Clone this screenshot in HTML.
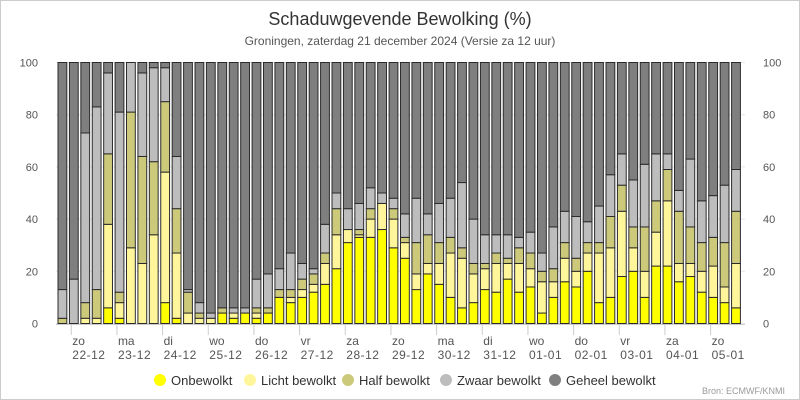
<!DOCTYPE html>
<html><head><meta charset="utf-8"><style>
body{margin:0;background:#fff;font-family:"Liberation Sans",sans-serif}
svg{display:block}
</style></head><body>
<svg id="chart" width="800" height="400" xmlns="http://www.w3.org/2000/svg">
<rect x="0.5" y="0.5" width="799" height="399" fill="#fff" stroke="#ccc"/>
<text x="400" y="25" text-anchor="middle" font-size="18" fill="#333">Schaduwgevende Bewolking (%)</text>
<text x="400" y="45" text-anchor="middle" font-size="12" fill="#555">Groningen, zaterdag 21 december 2024 (Versie za 12 uur)</text>
<g id="grid"></g><g id="bars"></g><g id="axes"></g><g id="legend"></g>
<text x="785" y="394" text-anchor="end" font-size="9" fill="#999">Bron: ECMWF/KNMI</text>
</svg>
<script>
// cumulative tops: onbewolkt, licht, half, zwaar (geheel fills to 100)
const onbewolkt=[0,0,0,0,6,2,0,0,0,8,2,0,0,0,4,2,4,2,4,10,8,10,12,15,21,31,33,33,36,29,25,13,19,15,10,6,8,13,12,17,12,14,4,10,16,14,20,8,10,18,20,10,22,22,16,18,12,10,8,6];
const licht=[0,0,2,2,38,8,29,23,34,58,27,4,2,2,4,4,4,4,4,10,10,13,15,23,34,36,34,40,46,40,31,19,23,23,27,25,19,21,23,23,23,21,16,16,25,20,27,27,29,43,29,20,35,47,23,23,20,22,14,23];
const half=[2,0,8,13,65,12,81,64,62,85,44,12,4,2,6,4,4,6,6,13,13,17,19,27,44,36,36,44,46,44,33,31,34,31,33,29,23,23,27,25,29,27,20,21,31,25,31,31,41,53,37,37,47,59,43,37,31,33,31,43];
const zwaar=[13,17,73,83,96,81,100,96,98,98,64,13,8,4,6,6,6,17,19,21,27,23,21,38,50,44,46,52,50,48,42,48,42,46,48,54,40,34,34,34,33,35,27,37,43,41,39,45,57,65,55,61,65,65,51,63,47,49,53,59];
const dayNames=["zo","ma","di","wo","do","vr","za","zo","ma","di","wo","do","vr","za","zo"];
const dayDates=["22-12","23-12","24-12","25-12","26-12","27-12","28-12","29-12","30-12","31-12","01-01","02-01","03-01","04-01","05-01"];
const yTicks=[0,20,40,60,80,100];
const NS="http://www.w3.org/2000/svg";
const X0=57,X1=742,Y0=323.5,Y100=62.5;
const n=onbewolkt.length, pitch=(X1-X0)/n;
const y=v=>Y0-(v/100)*(Y0-Y100);
const xb=i=>X0+i*pitch;
function mk(tag,attrs,parent){const e=document.createElementNS(NS,tag);for(const k in attrs)e.setAttribute(k,attrs[k]);parent.appendChild(e);return e;}
const grid=document.getElementById('grid'),bars=document.getElementById('bars'),axes=document.getElementById('axes'),legend=document.getElementById('legend');
yTicks.forEach(t=>{
  const l=mk('line',{x1:56,x2:745,y1:y(t),y2:y(t),stroke:'#e6e6e6','stroke-width':1},grid);
  
  
  const a=mk('text',{x:38,y:y(t)+4,'text-anchor':'end','font-size':11,fill:'#555'},axes);a.textContent=t;
  
  
  const b=mk('text',{x:763,y:y(t)+4,'text-anchor':'start','font-size':11,fill:'#555'},axes);b.textContent=t;
  
  
});
const cols=['#ffff00','#fff59a','#cdc97a','#bdbdbd','#7f7f7f'];
const series=[onbewolkt,licht,half,zwaar];
for(let i=0;i<n;i++){
  const bx=xb(i)+1, bw=pitch-2.6;
  let prev=0;
  const tops=[onbewolkt[i],licht[i],half[i],zwaar[i],100];
  tops.forEach((t,s)=>{
    if(t>prev){
      const r=mk('rect',{x:bx,y:y(t),width:bw,height:y(prev)-y(t),fill:cols[s],stroke:'#2b2b2b','stroke-width':1},bars);
      
      
    }
    prev=Math.max(prev,t);
  });
}
const ax=mk('line',{x1:56,x2:745,y1:324.5,y2:324.5,stroke:'#ccc','stroke-width':1},axes);


dayNames.forEach((d,k)=>{
  const tx=X0+pitch*(1.25+4*k);
  const tk=mk('line',{x1:tx,x2:tx,y1:325,y2:335,stroke:'#ccc'},axes);
  
  
  const t1=mk('text',{x:tx+1,y:345,'font-size':12,fill:'#555'},axes);t1.textContent=d;
  
  
  const t2=mk('text',{x:tx+1,y:359,'font-size':12,fill:'#555','letter-spacing':'0.5'},axes);t2.textContent=dayDates[k];
  
  
});
const legNames=['Onbewolkt','Licht bewolkt','Half bewolkt','Zwaar bewolkt','Geheel bewolkt'];
const legX=[160,250,348,446,555];
legNames.forEach((nm,s)=>{
  const g=mk('g',{},legend);
  
  
  mk('circle',{cx:legX[s],cy:380,r:6,fill:cols[s]},g);
  const t=mk('text',{x:legX[s]+11,y:385,'font-size':13,fill:'#333'},g);t.textContent=nm;
});
</script>
</body></html>
